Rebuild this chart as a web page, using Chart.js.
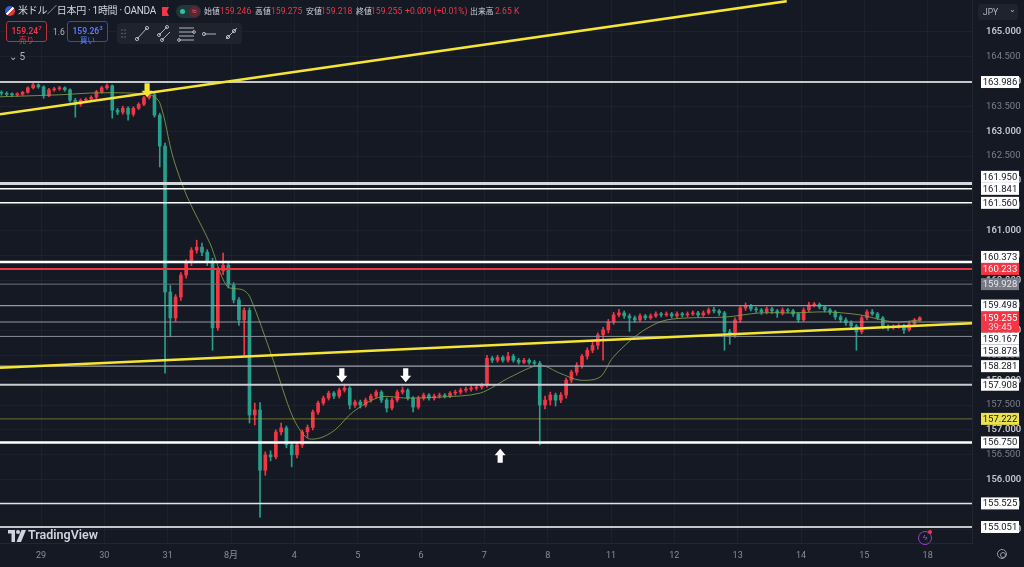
<!DOCTYPE html>
<html>
<head>
<meta charset="utf-8">
<script src="https://cdn.jsdelivr.net/npm/chart.js@4.4.1/dist/chart.umd.min.js"></script>
<style>
  html, body { margin: 0; padding: 0; background: #151924; }
  #wrap { position: relative; width: 1024px; height: 567px; overflow: hidden;
          font-family: Roboto, "Noto Sans CJK JP", sans-serif; color: #d1d4dc; }
  #chart { position: absolute; left: 0; top: 0; }
  .ov { position: absolute; white-space: nowrap; line-height: 1; }
  .lbl { position: absolute; top: 7px; font-size: 7.9px; color: #d1d4dc; white-space: nowrap; line-height: 1; font-family: "Noto Sans CJK JP", sans-serif; }
  .val { position: absolute; top: 7px; font-size: 8.6px; color: #f23645; white-space: nowrap; line-height: 1; }
  .box { position: absolute; border-radius: 3px; text-align: center; font-size: 8.5px; line-height: 9px; background: #151924; }
  .tool { position: absolute; left: 117px; top: 23px; width: 125px; height: 21px; background: #1f232e; border-radius: 4px; }
</style>
</head>
<body>
<div id="wrap">
  <canvas id="chart" width="1024" height="567"></canvas>

  <!-- header -->
  <div class="ov" style="left:5px;top:6px;width:10px;height:10px;border-radius:50%;background:linear-gradient(135deg,#3c5bd6 45%,#ffffff 45%,#ffffff 60%,#e23b3b 60%);"></div>
  <div class="ov" style="left:18px;top:6px;font-size:10px;letter-spacing:-0.3px;color:#d1d4dc;">米ドル／日本円 · 1時間 · OANDA</div>
  <div class="ov" style="left:162px;top:7px;width:7px;height:9px;background:#f23645;clip-path:polygon(0 0,100% 0,70% 50%,100% 100%,0 100%);"></div>
  <div class="ov" style="left:176px;top:5px;width:25px;height:13px;border-radius:7px;background:#23363a;"></div>
  <div class="ov" style="left:180px;top:9px;width:5px;height:5px;border-radius:50%;background:#26c6a0;"></div>
  <div class="ov" style="left:189px;top:6px;width:11px;height:11px;border-radius:50%;background:#5a2734;color:#f2566a;font-size:9px;text-align:center;line-height:11px;">≈</div>
  <span class="lbl" style="left:204px;">始値</span><span class="val" style="left:220px;">159.246</span>
  <span class="lbl" style="left:255px;">高値</span><span class="val" style="left:271px;">159.275</span>
  <span class="lbl" style="left:306px;">安値</span><span class="val" style="left:321px;">159.218</span>
  <span class="lbl" style="left:356px;">終値</span><span class="val" style="left:371px;">159.255</span>
  <span class="val" style="left:405px;">+0.009 (+0.01%)</span>
  <span class="lbl" style="left:470px;">出来高</span><span class="val" style="left:495px;">2.65 K</span>

  <div class="box" style="left:6px;top:21px;width:39px;height:19px;border:1px solid #b8323d;color:#f23645;">
    <div style="margin-top:1px;font-weight:600;">159.24<sup style="font-size:6px;">7</sup></div><div style="font-size:7.5px;">売り</div></div>
  <div class="ov" style="left:53px;top:28px;font-size:8.5px;color:#b2b5be;">1.6</div>
  <div class="box" style="left:67px;top:21px;width:39px;height:19px;border:1px solid #2f4fb8;color:#5b7cff;">
    <div style="margin-top:1px;font-weight:600;">159.26<sup style="font-size:6px;">3</sup></div><div style="font-size:7.5px;">買い</div></div>

  <div class="tool">
    <svg width="125" height="21" viewBox="0 0 125 21" fill="none" stroke="#b2b5be" stroke-width="1">
      <g fill="#6a6d78" stroke="none"><circle cx="5" cy="7" r="0.8"/><circle cx="8" cy="7" r="0.8"/><circle cx="5" cy="10.5" r="0.8"/><circle cx="8" cy="10.5" r="0.8"/><circle cx="5" cy="14" r="0.8"/><circle cx="8" cy="14" r="0.8"/></g>
      <line x1="20" y1="16" x2="30" y2="5"/><circle cx="20" cy="16" r="1.6"/><circle cx="30" cy="5" r="1.6"/>
      <line x1="42" y1="12" x2="50" y2="4"/><line x1="45" y1="17" x2="53" y2="9"/><circle cx="42" cy="12" r="1.5"/><circle cx="50" cy="4" r="1.5"/><circle cx="45" cy="17" r="1.5"/>
      <line x1="62" y1="5" x2="77" y2="5"/><line x1="62" y1="9" x2="77" y2="9"/><line x1="62" y1="13" x2="77" y2="13"/><line x1="62" y1="17" x2="77" y2="17"/><circle cx="77" cy="9" r="1.4"/><circle cx="62" cy="17" r="1.4"/>
      <line x1="87" y1="11" x2="99" y2="11"/><circle cx="87" cy="11" r="1.6"/>
      <line x1="109" y1="16" x2="120" y2="5"/><circle cx="111" cy="14" r="1.6"/><circle cx="117" cy="8" r="1.6"/>
    </svg>
  </div>
  <div class="ov" style="left:9px;top:52px;font-size:10px;color:#b2b5be;">⌄ 5</div>

  <!-- top right currency selector -->
  <div class="ov" style="left:978px;top:4px;width:40px;height:16px;border-radius:3px;background:#1f232e;"></div>
  <div class="ov" style="left:983px;top:8px;font-size:8.5px;color:#b2b5be;">JPY</div>
  <div class="ov" style="left:1009px;top:6px;font-size:8px;color:#b2b5be;">⌄</div>

  <!-- bottom -->
  <svg class="ov" style="left:8px;top:530px;" width="18" height="12" viewBox="0 0 18 12">
    <path d="M0 0H7V12H3.5V3.5H0Z" fill="#d1d4dc"/><circle cx="10" cy="2" r="2" fill="#d1d4dc"/><path d="M13.5 0H18L13 12H8.5Z" fill="#d1d4dc"/>
  </svg>
  <div class="ov" style="left:28px;top:529px;font-size:12.5px;font-weight:600;color:#d1d4dc;">TradingView</div>
  <div class="ov" style="left:918px;top:531px;width:12px;height:12px;border:1px solid #9c3bd0;border-radius:50%;color:#b05de0;font-size:8px;text-align:center;line-height:12px;">ϟ</div>
  <div class="ov" style="left:928px;top:530px;width:4px;height:4px;border-radius:50%;background:#f23645;"></div>
  <div class="ov" style="left:997px;top:549px;width:8px;height:8px;border:1px solid #9598a1;border-radius:50%;"></div>
  <div class="ov" style="left:1000px;top:552px;width:4px;height:4px;border:1px solid #9598a1;border-radius:50%;"></div>
</div>

<script>
// ---- data (2-hour candles) ----
const dayLabels = ['29', '30', '31', '8月', '4', '5', '6', '7', '8', '11', '12', '13', '14', '15', '18'];
const firstSlot = -8;   // candles before the first day label (evening of the 28th)

const opens = [
  163.78, 163.76, 163.74, 163.73, 163.74, 163.78, 163.87, 163.93,
  163.89, 163.71, 163.83, 163.85, 163.87, 163.83, 163.62, 163.54, 163.62, 163.64, 163.68, 163.79,
  163.87, 163.91, 163.42, 163.38, 163.46, 163.34, 163.46, 163.54, 163.67, 163.73, 163.32, 162.70,
  159.77, 159.25, 159.67, 160.11, 160.37, 160.61, 160.67, 160.57, 160.37, 159.05, 160.20, 160.31,
  159.91, 159.61, 159.21, 159.40, 157.30, 157.40, 156.19, 156.50, 156.46, 156.96, 157.04, 156.70,
  156.50, 156.70, 156.96, 157.05, 157.36, 157.54, 157.64, 157.74, 157.68, 157.80, 157.84, 157.50,
  157.56, 157.50, 157.60, 157.68, 157.76, 157.60, 157.44, 157.60, 157.76, 157.80, 157.64, 157.46,
  157.64, 157.70, 157.64, 157.68, 157.70, 157.68, 157.74, 157.76, 157.80, 157.82, 157.84, 157.86,
  157.90, 158.44, 158.40, 158.46, 158.40, 158.48, 158.40, 158.36, 158.40, 158.36, 158.34, 157.50,
  157.60, 157.70, 157.60, 157.70, 158.00, 158.16, 158.30, 158.48, 158.60, 158.70, 158.91, 159.01,
  159.17, 159.31, 159.35, 159.29, 159.25, 159.21, 159.29, 159.25, 159.29, 159.33, 159.31, 159.33,
  159.29, 159.33, 159.31, 159.33, 159.35, 159.31, 159.35, 159.41, 159.39, 159.35, 158.97, 158.91,
  159.21, 159.45, 159.49, 159.43, 159.41, 159.37, 159.43, 159.39, 159.35, 159.41, 159.39, 159.33,
  159.21, 159.41, 159.51, 159.52, 159.47, 159.41, 159.37, 159.27, 159.21, 159.15, 159.09, 158.97,
  159.25, 159.37, 159.33, 159.25, 159.07, 159.05, 159.07, 159.09, 159.01, 159.13, 159.21
];
const highs = [
  163.81, 163.79, 163.77, 163.77, 163.80, 163.89, 163.96, 163.95,
  163.91, 163.86, 163.88, 163.90, 163.89, 163.85, 163.66, 163.65, 163.67, 163.71, 163.82, 163.90,
  163.95, 163.93, 163.46, 163.50, 163.49, 163.49, 163.57, 163.70, 163.79, 163.76, 163.36, 162.76,
  159.90, 159.72, 160.16, 160.42, 160.66, 160.81, 160.75, 160.62, 160.45, 160.26, 160.55, 160.36,
  159.96, 159.66, 159.45, 159.45, 157.54, 157.55, 156.56, 156.58, 157.00, 157.14, 157.08, 156.74,
  156.75, 157.00, 157.10, 157.40, 157.58, 157.68, 157.78, 157.77, 157.84, 157.92, 157.87, 157.60,
  157.60, 157.64, 157.72, 157.80, 157.79, 157.64, 157.64, 157.80, 157.86, 157.83, 157.67, 157.68,
  157.74, 157.73, 157.72, 157.74, 157.73, 157.77, 157.80, 157.84, 157.86, 157.88, 157.90, 157.94,
  158.50, 158.48, 158.50, 158.49, 158.56, 158.52, 158.44, 158.44, 158.43, 158.40, 158.38, 157.68,
  157.76, 157.74, 157.75, 158.04, 158.20, 158.35, 158.52, 158.65, 158.76, 158.95, 159.06, 159.22,
  159.36, 159.42, 159.39, 159.33, 159.29, 159.33, 159.32, 159.33, 159.37, 159.36, 159.37, 159.36,
  159.37, 159.36, 159.37, 159.39, 159.38, 159.39, 159.45, 159.46, 159.42, 159.38, 159.02, 159.25,
  159.49, 159.55, 159.52, 159.46, 159.44, 159.47, 159.46, 159.42, 159.45, 159.44, 159.42, 159.36,
  159.45, 159.56, 159.56, 159.55, 159.50, 159.44, 159.40, 159.31, 159.25, 159.19, 159.12, 159.29,
  159.41, 159.42, 159.36, 159.28, 159.11, 159.11, 159.13, 159.12, 159.17, 159.24, 159.275
];
const lows = [
  163.72, 163.71, 163.69, 163.70, 163.72, 163.76, 163.85, 163.86,
  163.66, 163.69, 163.80, 163.82, 163.80, 163.58, 163.28, 163.50, 163.58, 163.61, 163.65, 163.76,
  163.84, 163.26, 163.33, 163.34, 163.22, 163.30, 163.43, 163.51, 163.64, 163.28, 162.28, 158.14,
  158.87, 159.18, 159.60, 160.05, 160.30, 160.55, 160.50, 160.30, 158.60, 159.00, 160.12, 159.85,
  159.55, 159.10, 158.47, 157.14, 157.10, 155.25, 156.09, 156.38, 156.42, 156.90, 156.64, 156.26,
  156.44, 156.65, 156.85, 157.00, 157.31, 157.50, 157.60, 157.63, 157.64, 157.76, 157.42, 157.45,
  157.44, 157.46, 157.56, 157.64, 157.55, 157.36, 157.40, 157.56, 157.72, 157.60, 157.36, 157.42,
  157.60, 157.60, 157.60, 157.64, 157.64, 157.65, 157.70, 157.72, 157.76, 157.78, 157.80, 157.82,
  157.86, 158.35, 158.36, 158.36, 158.36, 158.36, 158.32, 158.33, 158.32, 158.30, 156.70, 157.42,
  157.50, 157.48, 157.55, 157.64, 157.95, 158.10, 158.24, 158.42, 158.55, 158.62, 158.40, 158.95,
  159.12, 159.27, 159.24, 158.98, 159.16, 159.18, 159.21, 159.22, 159.26, 159.27, 159.28, 159.25,
  159.25, 159.27, 159.27, 159.30, 159.27, 159.28, 159.32, 159.35, 159.30, 158.60, 158.72, 158.86,
  159.16, 159.40, 159.39, 159.36, 159.32, 159.33, 159.34, 159.26, 159.31, 159.35, 159.28, 159.16,
  159.18, 159.37, 159.47, 159.43, 159.37, 159.32, 159.22, 159.16, 159.10, 159.03, 158.60, 158.93,
  159.21, 159.30, 159.22, 159.03, 159.00, 159.02, 159.04, 158.94, 158.98, 159.09, 159.18
];
const closes = [
  163.76, 163.74, 163.73, 163.74, 163.78, 163.87, 163.93, 163.89,
  163.71, 163.83, 163.85, 163.87, 163.83, 163.62, 163.54, 163.62, 163.64, 163.68, 163.79, 163.87,
  163.91, 163.42, 163.38, 163.46, 163.34, 163.46, 163.54, 163.67, 163.73, 163.32, 162.70, 159.77,
  159.25, 159.67, 160.11, 160.37, 160.61, 160.67, 160.57, 160.37, 159.05, 160.20, 160.31, 159.91,
  159.61, 159.21, 159.40, 157.30, 157.40, 156.19, 156.50, 156.46, 156.96, 157.04, 156.70, 156.50,
  156.70, 156.96, 157.05, 157.36, 157.54, 157.64, 157.74, 157.68, 157.80, 157.84, 157.50, 157.56,
  157.50, 157.60, 157.68, 157.76, 157.60, 157.44, 157.60, 157.76, 157.80, 157.64, 157.46, 157.64,
  157.70, 157.64, 157.68, 157.70, 157.68, 157.74, 157.76, 157.80, 157.82, 157.84, 157.86, 157.90,
  158.44, 158.40, 158.46, 158.40, 158.48, 158.40, 158.36, 158.40, 158.36, 158.34, 157.50, 157.60,
  157.70, 157.60, 157.70, 158.00, 158.16, 158.30, 158.48, 158.60, 158.70, 158.91, 159.01, 159.17,
  159.31, 159.35, 159.29, 159.25, 159.21, 159.29, 159.25, 159.29, 159.33, 159.31, 159.33, 159.29,
  159.33, 159.31, 159.33, 159.35, 159.31, 159.35, 159.41, 159.39, 159.35, 158.97, 158.91, 159.21,
  159.45, 159.49, 159.43, 159.41, 159.37, 159.43, 159.39, 159.35, 159.41, 159.39, 159.33, 159.21,
  159.41, 159.51, 159.52, 159.47, 159.41, 159.37, 159.27, 159.21, 159.15, 159.09, 158.97, 159.25,
  159.37, 159.33, 159.25, 159.07, 159.05, 159.07, 159.09, 159.01, 159.13, 159.21, 159.255
];

// slow moving average (slot position, price)
const maSlots  = [-7.77, 3.6, 11.2, 20.6, 22.5, 25.0, 27.7, 32.0, 35.2, 38.3, 39.6, 44.0, 47.7, 50.4, 52.9, 55.7,
                  59.1, 64.2, 69.3, 75.6, 83.2, 88.9, 94.5, 98.3, 102.1, 105.9, 108.4, 113.5, 118.6, 130.0, 136.2,
                  142.5, 148.9, 155.2, 161.4, 166.9];
const maValues = [163.69, 163.73, 163.77, 163.73, 163.57, 162.48, 161.68, 160.75, 159.89, 159.81, 159.67, 158.40,
                  157.26, 156.84, 156.84, 157.00, 157.36, 157.66, 157.64, 157.66, 157.74, 158.06, 158.30, 158.14,
                  158.00, 158.06, 158.46, 158.95, 159.21, 159.27, 159.35, 159.35, 159.37, 159.31, 159.17, 159.21];

// horizontal levels drawn on the chart
const levelPrices = [163.986, 161.950, 161.841, 161.560, 160.373, 160.233, 159.928, 159.498,
                     159.167, 158.878, 158.281, 157.908, 157.222, 156.750, 155.525, 155.051];
const lastPrice = 159.255;
const countdown = '39:45';

// trend lines (slot, price) anchors
const trendUpper = [[-7.77, 163.34], [141.3, 165.61]];
const trendLower = [[-7.77, 158.25], [176.4, 159.14]];

// arrow marks (slot, price at tip)
const arrowSlots  = [20.1, 57.0, 69.1, 87.0];
const arrowPrices = [163.68, 157.96, 157.96, 156.62];
const arrowDirs   = ['down', 'down', 'down', 'up'];

const priceTicks = [155.0, 155.5, 156.0, 156.5, 157.0, 157.5, 158.0, 158.5, 159.0, 159.5,
                    160.0, 160.5, 161.0, 161.5, 162.0, 162.5, 163.0, 163.5, 164.0, 164.5, 165.0];

// ---- styles ----
const UP = '#f23645', DN = '#26a08c';
const levelStyles = [
  { c: '#ffffff', w: 1.5 }, { c: '#d6d8dd', w: 3 }, { c: '#ffffff', w: 1.5 }, { c: '#ffffff', w: 1.5 },
  { c: '#ffffff', w: 2.5 }, { c: '#f23645', w: 2 }, { c: '#6f727c', w: 1 }, { c: '#9598a1', w: 1.2 },
  { c: '#9598a1', w: 1.2 }, { c: '#8a8d96', w: 1 }, { c: '#9fa2aa', w: 1.2 }, { c: '#c9cbd1', w: 2 },
  { c: 'rgba(190,180,60,0.55)', w: 1 }, { c: '#ffffff', w: 2.5 }, { c: '#e0e2e6', w: 1.5 }, { c: '#ffffff', w: 1.5 }
];
const labelColors = { 5: ['#f23645', '#ffffff'], 6: ['#787b86', '#e6e8ee'], 12: ['#ebe24c', '#131722'] };

const xs = closes.map((_, k) => firstSlot + k + 0.5);
const candleColors = closes.map((c, k) => (c >= opens[k] ? UP : DN));

const X_MIN = -7.77, X_MAX = 176.4, Y_MIN = 154.73, Y_MAX = 165.633;

const datasets = [];
levelPrices.forEach((p, k) => {
  datasets.push({
    type: 'line', data: [{ x: X_MIN, y: p }, { x: X_MAX, y: p }],
    borderColor: levelStyles[k].c, borderWidth: levelStyles[k].w, pointRadius: 0, order: 1
  });
});
[trendUpper, trendLower].forEach(t => {
  datasets.push({
    type: 'line', data: t.map(a => ({ x: a[0], y: a[1] })),
    borderColor: '#f5e536', borderWidth: 2.5, pointRadius: 0, order: 0
  });
});
datasets.push({
  type: 'line', data: maSlots.map((s, k) => ({ x: s, y: maValues[k] })),
  borderColor: 'rgba(125,160,75,0.85)', borderWidth: 1, pointRadius: 0, tension: 0.3, order: 3
});
datasets.push({
  type: 'bar', data: xs.map((x, k) => ({ x, y: [lows[k], highs[k]] })),
  backgroundColor: candleColors, barThickness: 1, grouped: false, order: 6
});
datasets.push({
  type: 'bar', data: xs.map((x, k) => ({ x, y: [opens[k], closes[k]] })),
  backgroundColor: candleColors, barThickness: 3, minBarLength: 1, grouped: false, order: 5
});

const bgPlugin = {
  id: 'bg',
  beforeDraw(chart) {
    const ctx = chart.ctx;
    ctx.save(); ctx.fillStyle = '#151924'; ctx.fillRect(0, 0, chart.width, chart.height); ctx.restore();
  }
};

function drawArrow(ctx, x, tip, dir, color) {
  const hw = 5.5, sw = 2.6, head = 6.5, len = 14, s = dir === 'down' ? -1 : 1;
  ctx.fillStyle = color;
  ctx.beginPath();
  ctx.moveTo(x, tip);
  ctx.lineTo(x + hw, tip + s * head);
  ctx.lineTo(x + sw, tip + s * head);
  ctx.lineTo(x + sw, tip + s * len);
  ctx.lineTo(x - sw, tip + s * len);
  ctx.lineTo(x - sw, tip + s * head);
  ctx.lineTo(x - hw, tip + s * head);
  ctx.closePath();
  ctx.fill();
}

const marksPlugin = {
  id: 'marks',
  afterDatasetsDraw(chart) {
    const ctx = chart.ctx, xS = chart.scales.x, yS = chart.scales.y;
    ctx.save();
    arrowSlots.forEach((s, k) => {
      const color = k === 0 ? '#f5e536' : '#ffffff';
      drawArrow(ctx, xS.getPixelForValue(s), yS.getPixelForValue(arrowPrices[k]), arrowDirs[k], color);
    });
    ctx.restore();
  },
  afterDraw(chart) {
    const ctx = chart.ctx, yS = chart.scales.y;
    const bx = 981, bw = 38, h = 12;
    const items = levelPrices.map((p, k) => ({ p, k, y: yS.getPixelForValue(p), h }));
    const cur = { p: lastPrice, k: -1, y: yS.getPixelForValue(lastPrice), h: 21, cur: true };
    items.push(cur);
    items.sort((a, b) => a.y - b.y);
    items.forEach(it => { it.top = it.y - 6; });
    const ci = items.indexOf(cur);
    for (let i = ci - 1; i >= 0; i--) {
      const below = items[i + 1];
      if (items[i].top + items[i].h > below.top) items[i].top = below.top - items[i].h;
    }
    for (let i = ci + 1; i < items.length; i++) {
      const above = items[i - 1];
      if (items[i].top < above.top + above.h) items[i].top = above.top + above.h;
    }
    ctx.save();
    ctx.textAlign = 'center';
    ctx.textBaseline = 'middle';
    items.forEach(it => {
      let bg = '#ffffff', fg = '#131722';
      if (it.cur) { bg = '#f23645'; fg = '#ffffff'; }
      else if (labelColors[it.k]) { bg = labelColors[it.k][0]; fg = labelColors[it.k][1]; }
      ctx.fillStyle = bg;
      ctx.fillRect(bx, it.top, bw, it.h);
      ctx.fillStyle = fg;
      ctx.font = '9.5px Roboto, "Noto Sans", sans-serif';
      ctx.fillText(it.p.toFixed(3), bx + bw / 2, it.top + 6.5);
      if (it.cur) {
        ctx.fillStyle = 'rgba(255,255,255,0.8)';
        ctx.fillText(countdown, bx + bw / 2, it.top + 15.5);
      }
    });
    ctx.restore();
  }
};

new Chart(document.getElementById('chart'), {
  type: 'bar',
  data: { datasets },
  options: {
    responsive: false,
    animation: false,
    layout: { padding: 0 },
    plugins: { legend: { display: false }, tooltip: { enabled: false } },
    scales: {
      x: {
        type: 'linear', min: X_MIN, max: X_MAX, offset: false,
        grid: { color: 'rgba(255,255,255,0.035)', drawTicks: false, offset: false },
        border: { display: true, color: 'rgba(255,255,255,0.06)' },
        afterBuildTicks: (scale) => { scale.ticks = dayLabels.map((_, k) => ({ value: k * 12 })); },
        afterFit: (scale) => { scale.height = 24; scale.paddingLeft = 0; scale.paddingRight = 0; },
        ticks: {
          autoSkip: false, maxRotation: 0, padding: 7,
          color: '#8b8e97', font: { size: 9, family: 'Roboto, "Noto Sans CJK JP", sans-serif' },
          callback: (v) => dayLabels[Math.round(v / 12)]
        }
      },
      y: {
        type: 'linear', position: 'right', min: Y_MIN, max: Y_MAX,
        grid: { color: 'rgba(255,255,255,0.035)', drawTicks: false },
        border: { display: true, color: 'rgba(255,255,255,0.06)' },
        afterBuildTicks: (scale) => { scale.ticks = priceTicks.map(v => ({ value: v })); },
        afterFit: (scale) => { scale.width = 52; scale.paddingTop = 0; scale.paddingBottom = 0; },
        ticks: {
          autoSkip: false, padding: 14,
          color: (c) => (c.tick && c.tick.value % 1 === 0 ? '#c3c6ce' : '#7c7f89'),
          font: (c) => ({ size: 9.5, weight: c.tick && c.tick.value % 1 === 0 ? '600' : '400',
                          family: 'Roboto, "Noto Sans", sans-serif' }),
          callback: (v) => v.toFixed(3)
        }
      }
    }
  },
  plugins: [bgPlugin, marksPlugin]
});
</script>
</body>
</html>
